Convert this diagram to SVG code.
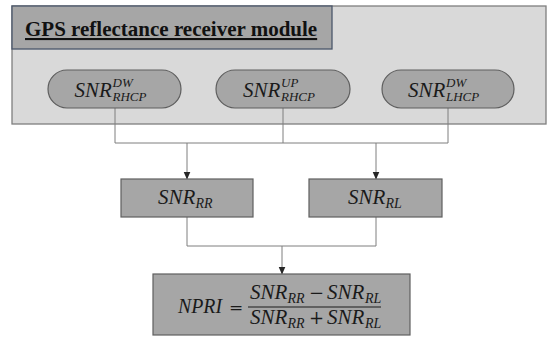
<svg xmlns="http://www.w3.org/2000/svg" width="551" height="337" viewBox="0 0 551 337">
<style>
.m{font-family:"Liberation Serif","Times New Roman",serif;font-style:italic;fill:#1a1a1a}
.b{font-size:21px}
.s{font-size:14px}
.t{font-size:13px}
.node{fill:#a6a6a6;stroke:#5f5f5f;stroke-width:1.2}
.ln{fill:none;stroke:#7f7f7f;stroke-width:1}
</style>
<defs>
<marker id="ah" viewBox="0 0 8 8" refX="7.5" refY="4" markerWidth="8" markerHeight="8" markerUnits="userSpaceOnUse" orient="auto">
<path d="M0,0.5 L8,4 L0,7.5 Z" fill="#262626"/>
</marker>
</defs>
<rect width="551" height="337" fill="#ffffff"/>
<g id="module">
<rect x="12" y="6" width="534" height="118" fill="#d9d9d9" stroke="#7f7f7f" stroke-width="1.3"/>
<rect x="12" y="6" width="320" height="43" fill="#a6a6a6" stroke="#4a566a" stroke-width="1.3"/>
<text x="25" y="36" font-family="'Liberation Serif','Times New Roman',serif" font-weight="bold" font-size="21" fill="#111" text-decoration="underline">GPS reflectance receiver module</text>
</g>
<g id="connectors">
<path class="ln" d="M115,108 V143 M283,108 V143 M448,108 V143 M115,143 H448"/>
<path class="ln" d="M187,143 V179" marker-end="url(#ah)"/>
<path class="ln" d="M376,143 V179" marker-end="url(#ah)"/>
<path class="ln" d="M187,217 V246 H376 V217"/>
<path class="ln" d="M282,246 V274" marker-end="url(#ah)"/>
</g>
<g id="snr-dw-rhcp">
<rect class="node" x="48" y="70" width="133" height="38" rx="19" ry="19"/>
<text class="m"><tspan class="b" x="74.5" y="97">SNR</tspan><tspan class="t" x="112.5" y="86.5">DW</tspan><tspan class="t" x="112.5" y="101">RHCP</tspan></text>
</g>
<g id="snr-up-rhcp">
<rect class="node" x="216" y="70" width="134" height="38" rx="19" ry="19"/>
<text class="m"><tspan class="b" x="243" y="97">SNR</tspan><tspan class="t" x="281" y="86.5">UP</tspan><tspan class="t" x="281" y="101">RHCP</tspan></text>
</g>
<g id="snr-dw-lhcp">
<rect class="node" x="382" y="70" width="132" height="38" rx="19" ry="19"/>
<text class="m"><tspan class="b" x="408" y="97">SNR</tspan><tspan class="t" x="446" y="86.5">DW</tspan><tspan class="t" x="446" y="101">LHCP</tspan></text>
</g>
<g id="snr-rr">
<rect class="node" x="121" y="179" width="132" height="38"/>
<text class="m"><tspan class="b" x="158" y="204">SNR</tspan><tspan class="s" x="195.5" y="208">RR</tspan></text>
</g>
<g id="snr-rl">
<rect class="node" x="309" y="179" width="133" height="38"/>
<text class="m"><tspan class="b" x="348" y="204">SNR</tspan><tspan class="s" x="385.5" y="208">RL</tspan></text>
</g>
<g id="npri">
<rect class="node" x="153" y="274" width="257" height="61"/>
<text class="m"><tspan class="b" x="178" y="313" textLength="44" lengthAdjust="spacingAndGlyphs">NPRI</tspan></text>
<text x="229" y="313" font-family="'DejaVu Serif',serif" font-size="17" fill="#1a1a1a">=</text>
<line x1="248" y1="307" x2="381" y2="307" stroke="#1a1a1a" stroke-width="1.2"/>
<text class="m"><tspan class="b" x="250" y="299">SNR</tspan><tspan class="s" x="287.5" y="303">RR</tspan><tspan class="b" x="327" y="299">SNR</tspan><tspan class="s" x="365" y="303">RL</tspan></text>
<text x="309" y="299" font-family="'DejaVu Serif',serif" font-size="18" fill="#1a1a1a">−</text>
<text class="m"><tspan class="b" x="250" y="324">SNR</tspan><tspan class="s" x="287.5" y="328">RR</tspan><tspan class="b" x="327" y="324">SNR</tspan><tspan class="s" x="365" y="328">RL</tspan></text>
<text x="309" y="324" font-family="'DejaVu Serif',serif" font-size="18" fill="#1a1a1a">+</text>
</g>
</svg>
